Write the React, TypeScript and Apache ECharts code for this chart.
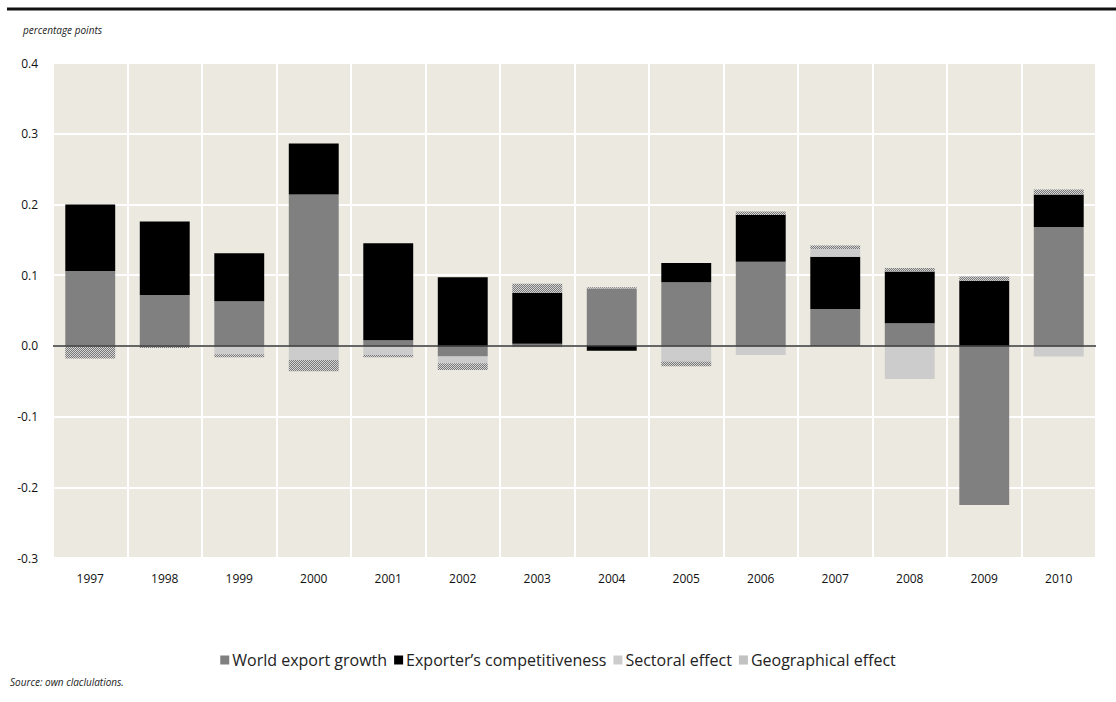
import React, { useEffect, useRef } from "react";
import * as echarts from "echarts";

const years = ["1997", "1998", "1999", "2000", "2001", "2002", "2003", "2004", "2005", "2006", "2007", "2008", "2009", "2010"];
const worldExportGrowth = [0.106, 0.072, 0.063, 0.214, 0.008, -0.015, 0.003, 0.081, 0.090, 0.119, 0.052, 0.032, -0.225, 0.168];
const exportersCompetitiveness = [0.094, 0.104, 0.068, 0.072, 0.137, 0.097, 0.072, -0.007, 0.027, 0.066, 0.074, 0.073, 0.092, 0.046];
const sectoralEffect = [-0.001, 0, -0.012, -0.020, -0.013, -0.0095, -0.002, 0, -0.022, -0.013, 0.011, -0.047, 0, -0.015];
const geographicalEffect = [-0.017, -0.003, -0.004, -0.016, -0.003, -0.0095, 0.013, 0.002, -0.007, 0.005, 0.005, 0.005, 0.006, 0.007];
const seriesNames = ["World export growth", "Exporter\u2019s competitiveness", "Sectoral effect", "Geographical effect"];

const FONT = "'Open Sans', Lato, sans-serif";

export default function App() {
  const ref = useRef<HTMLDivElement>(null);
  useEffect(() => {
    if (!ref.current) return;
    const chart = echarts.init(ref.current, null, { renderer: "svg" });
    const hatch = {
      symbol: "rect",
      symbolSize: 1,
      color: "#777777",
      backgroundColor: "#d6d6d6",
      dashArrayX: [[1, 1], [0, 1, 1, 0]],
      dashArrayY: [1, 0],
      rotation: 0,
    };
    const legendHatch = { ...hatch, color: "#a8a8a8", backgroundColor: "#dcdcdc" };
    const mk = (name: string, data: number[], color: string, extra: any = {}) => ({
      name,
      type: "bar",
      stack: "total",
      data,
      barCategoryGap: "33%",
      itemStyle: { color, ...extra },
      emphasis: { disabled: true },
    });
    chart.setOption({
      animation: false,
      textStyle: { fontFamily: FONT },
      grid: {
        left: 53,
        right: 20,
        top: 63,
        bottom: 144,
        show: true,
        backgroundColor: "#ECEAE0",
        borderWidth: 0,
      },
      legend: {
        top: 647,
        left: "center",
        itemWidth: 9,
        itemHeight: 9,
        itemGap: 7,
        icon: "rect",
        textStyle: { fontSize: 16, color: "#222", fontFamily: FONT, padding: [0, 0, 0, -2] },
        data: [
          { name: seriesNames[0] },
          { name: seriesNames[1] },
          { name: seriesNames[2] },
          { name: seriesNames[3], itemStyle: { color: "#dcdcdc", decal: legendHatch } },
        ],
      },
      xAxis: {
        type: "category",
        data: years,
        axisLine: { show: false },
        axisTick: { show: false },
        axisLabel: { color: "#111", fontSize: 12, margin: 14, fontFamily: FONT },
        splitLine: { show: true, lineStyle: { color: "#ffffff", width: 2 } },
      },
      yAxis: {
        type: "value",
        min: -0.3,
        max: 0.4,
        interval: 0.1,
        axisLine: { show: false },
        axisTick: { show: false },
        axisLabel: {
          color: "#111",
          fontSize: 12,
          margin: 15,
          fontFamily: FONT,
          formatter: (v: number) => (Math.abs(v) < 1e-9 ? "0.0" : v.toFixed(1)),
        },
        splitLine: { show: true, lineStyle: { color: "#ffffff", width: 2 } },
      },
      series: [
        {
          ...mk(seriesNames[0], worldExportGrowth, "#808080"),
          markLine: {
            silent: true,
            symbol: "none",
            label: { show: false },
            lineStyle: { color: "#333333", width: 1.5, type: "solid" },
            data: [{ yAxis: 0 }],
            z: 10,
          },
        },
        mk(seriesNames[1], exportersCompetitiveness, "#000000"),
        mk(seriesNames[2], sectoralEffect, "#cccccc"),
        mk(seriesNames[3], geographicalEffect, "#d6d6d6", { decal: hatch }),
      ],
      graphic: [
        {
          type: "line",
          shape: { x1: 7, y1: 9, x2: 1116, y2: 9 },
          style: { stroke: "#111", lineWidth: 3 },
        },
        {
          type: "text",
          x: 23,
          y: 25,
          style: { text: "percentage points", font: `italic 10px ${FONT}`, fill: "#222" },
        },
        {
          type: "text",
          x: 10,
          y: 677,
          style: { text: "Source: own claclulations.", font: `italic 10px ${FONT}`, fill: "#222" },
        },
      ],
    });
    return () => chart.dispose();
  }, []);
  return <div ref={ref} style={{ position: "fixed", left: 0, top: 0, width: 1116, height: 702, background: "#fff" }} />;
}
